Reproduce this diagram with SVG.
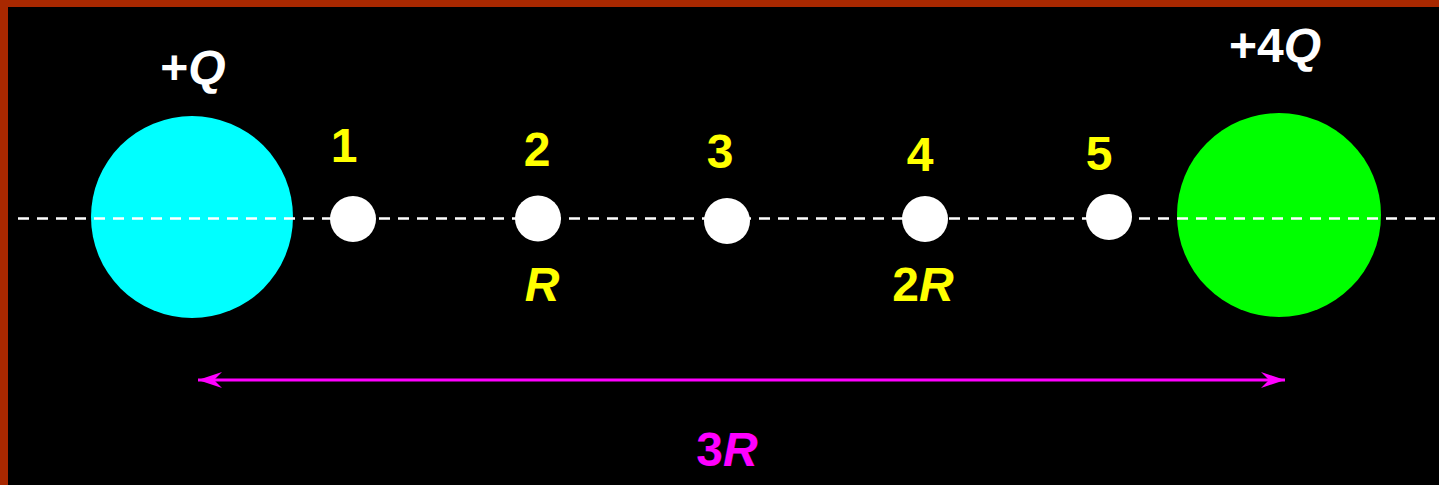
<svg xmlns="http://www.w3.org/2000/svg" width="1439" height="485" viewBox="0 0 1439 485">
<defs>
<style>
.lbl{font-family:"Liberation Sans",Arial,sans-serif;font-weight:bold;font-size:48px;text-anchor:middle}
.w{fill:#ffffff}
.y{fill:#ffff00}
.m{fill:#ff00ff}
.i{font-style:italic}
.pt{fill:#ffffff}
</style>
<marker id="ah" viewBox="0 0 24 16" refX="24" refY="8" markerWidth="24" markerHeight="16" markerUnits="userSpaceOnUse" orient="auto-start-reverse">
<path d="M0,0 L24,8 L0,16 L8,8 Z" fill="#ff00ff"/>
</marker>
</defs>
<rect x="0" y="0" width="1439" height="485" fill="#000000"/>
<rect x="0" y="0" width="1439" height="7" fill="#a82800"/>
<rect x="0" y="0" width="8" height="485" fill="#a82800"/>
<g id="charge-q">
<circle cx="192" cy="217" r="101" fill="#00ffff"/>
<text class="lbl w" x="193" y="84">+<tspan class="i">Q</tspan></text>
</g>
<g id="charge-4q">
<circle cx="1279" cy="215" r="102" fill="#00ff00"/>
<text class="lbl w" x="1275" y="62">+4<tspan class="i">Q</tspan></text>
</g>
<g id="connectors">
<line x1="18" y1="218.5" x2="1439" y2="218.5" stroke="#ffffff" stroke-width="2.5" stroke-dasharray="11 8"/>
<line x1="198" y1="380" x2="1285" y2="380" stroke="#ff00ff" stroke-width="3" marker-start="url(#ah)" marker-end="url(#ah)"/>
</g>
<g id="p1"><circle class="pt" cx="353" cy="219" r="23"/><text class="lbl y" x="344" y="162">1</text></g>
<g id="p2"><circle class="pt" cx="538" cy="218.5" r="23"/><text class="lbl y" x="537" y="166">2</text></g>
<g id="p3"><circle class="pt" cx="727" cy="221" r="23"/><text class="lbl y" x="720" y="168">3</text></g>
<g id="p4"><circle class="pt" cx="925" cy="219" r="23"/><text class="lbl y" x="920" y="171">4</text></g>
<g id="p5"><circle class="pt" cx="1109" cy="217" r="23"/><text class="lbl y" x="1099" y="170">5</text></g>
<g id="label-r"><text class="lbl y i" x="542" y="301">R</text></g>
<g id="label-2r"><text class="lbl y" x="923" y="301">2<tspan class="i">R</tspan></text></g>
<g id="label-3r"><text class="lbl m" x="727" y="466">3<tspan class="i">R</tspan></text></g>
</svg>
